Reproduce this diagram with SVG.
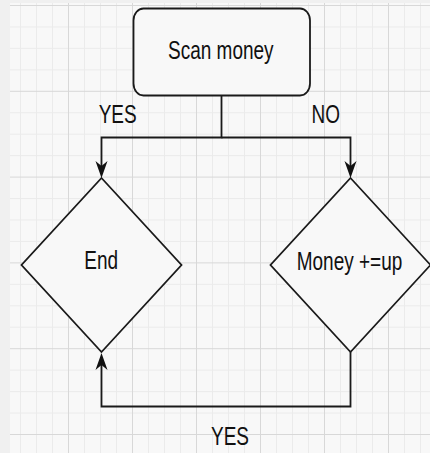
<svg xmlns="http://www.w3.org/2000/svg" width="430" height="453" viewBox="0 0 430 453">
<style>
.minor{stroke:#ebebeb;stroke-width:1;fill:none}
.major{stroke:#d8d8d8;stroke-width:1;fill:none}
.shape{fill:#f8f8f8;stroke:#1a1a1a;stroke-width:1.8}
.edge{fill:none;stroke:#1a1a1a;stroke-width:1.8;stroke-linejoin:miter}
.lbl{font-family:"Liberation Sans",Arial,sans-serif;font-size:19px;fill:#111;text-anchor:middle}
</style>
<defs>
<marker id="arr" markerUnits="userSpaceOnUse" markerWidth="18" markerHeight="12" refX="5" refY="6" orient="auto" overflow="visible">
<path d="M0,0 L17,6 L0,12 L5,6 Z" fill="#111"/>
</marker>
</defs>
<rect x="0" y="0" width="430" height="453" fill="#f0f0f0"/>
<rect x="10" y="3" width="420" height="450" fill="#f8f8f8"/>
<g id="grid">
<path class="minor" d="M20.5,3V453M36.5,3V453M52.5,3V453M84.5,3V453M100.5,3V453M116.5,3V453M148.5,3V453M164.5,3V453M180.5,3V453M212.5,3V453M228.5,3V453M244.5,3V453M276.5,3V453M292.5,3V453M308.5,3V453M340.5,3V453M356.5,3V453M372.5,3V453M404.5,3V453M420.5,3V453"/>
<path class="minor" d="M10,26.95H430M10,48.4H430M10,69.85H430M10,112.75H430M10,134.2H430M10,155.65H430M10,198.55H430M10,220H430M10,241.45H430M10,284.35H430M10,305.8H430M10,327.25H430M10,370.15H430M10,391.6H430M10,413.05H430"/>
<path class="major" d="M68.5,3V453M132.5,3V453M196.5,3V453M260.5,3V453M324.5,3V453M388.5,3V453"/>
<path class="major" d="M10,5.5H430M10,91.3H430M10,177.1H430M10,262.9H430M10,348.7H430M10,434.5H430"/>
</g>
<g id="connectors">
<path class="edge" d="M221.5,96 V137.5 H101.5 V166" marker-end="url(#arr)"/>
<path class="edge" d="M221.5,137.5 H350.5 V166" marker-end="url(#arr)"/>
<path class="edge" d="M350.5,352 V406.5 H101.5 V365" marker-end="url(#arr)"/>
<text class="lbl" transform="translate(117.7,123.3) scale(1,1.36)">YES</text>
<text class="lbl" transform="translate(325.8,123.3) scale(1,1.36)">NO</text>
<text class="lbl" transform="translate(230,445) scale(1,1.36)">YES</text>
</g>
<g id="scan-money">
<rect class="shape" x="133.5" y="8.5" width="176.5" height="87" rx="10" ry="12"/>
<text class="lbl" transform="translate(220.8,58.5) scale(1,1.36)">Scan money</text>
</g>
<g id="end">
<polygon class="shape" points="101.5,178 181.5,265 101.5,352 21.5,265"/>
<text class="lbl" transform="translate(101.2,269) scale(1,1.36)">End</text>
</g>
<g id="money-up">
<polygon class="shape" points="350.5,178 430.5,265 350.5,352 270.5,265"/>
<text class="lbl" transform="translate(349.5,270) scale(1,1.36)">Money +=up</text>
</g>
</svg>
